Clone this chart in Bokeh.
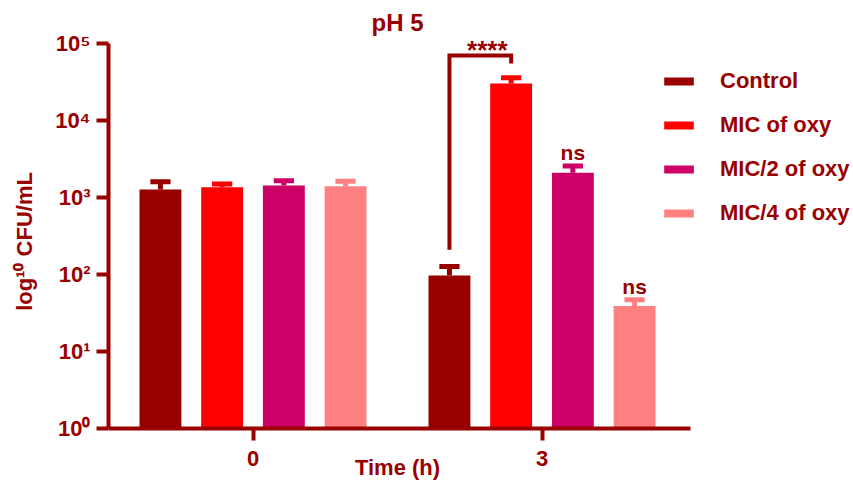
from bokeh.plotting import figure
from bokeh.models import FixedTicker, Legend, LegendItem, Label, ColumnDataSource
from bokeh.embed import file_html
from bokeh.resources import INLINE
from bokeh.core.properties import value

# ---------------- data ----------------
time_labels = ["0", "3"]
series = ["Control", "MIC of oxy", "MIC/2 of oxy", "MIC/4 of oxy"]
colors = ["#990000", "#ff0000", "#cc0066", "#ff8080"]

control = [1270, 97]
mic = [1360, 30300]
mic2 = [1430, 2100]
mic4 = [1400, 39]

control_err = [330, 30]
mic_err = [140, 5700]
mic2_err = [220, 470]
mic4_err = [220, 8]

y_ticks = [1, 10, 100, 1000, 10000, 100000]
y_tick_labels = ["10⁰", "10¹", "10²", "10³", "10⁴", "10⁵"]

# significance annotations: (series index, time index, text)
ns_marks = [(2, 1, "ns"), (3, 1, "ns")]
star_text = "****"

# ---------------- style ----------------
TXT = "#990000"
FONT = "Liberation Sans"

means = [control, mic, mic2, mic4]
errs = [control_err, mic_err, mic2_err, mic4_err]

pitch = 0.2135
bar_w = 0.145
cap_half = 0.035

W, H = 853, 482
LEFT = 108
AXIS_Y_PX = 428          # pixel row of the x axis (value 1)
px_per_group = 289.0
px_per_decade = 77.0
frame_w = W - LEFT
x_end = -0.5 + frame_w / px_per_group
y_start = 10 ** (-(H - AXIS_Y_PX) / px_per_decade)
y_end = 10 ** (AXIS_Y_PX / px_per_decade)

p = figure(width=W, height=H, x_range=(-0.5, x_end), y_range=(y_start, y_end),
           y_axis_type="log", output_backend="svg", toolbar_location=None,
           min_border_left=LEFT, min_border_right=0, min_border_top=0,
           min_border_bottom=0, title=None)
p.outline_line_color = None
p.grid.visible = False
p.background_fill_color = "white"
p.border_fill_color = "white"

renderers = []
for i, (m, e, c) in enumerate(zip(means, errs, colors)):
    off = (i - 1.5) * pitch
    xs = [g + off for g in range(len(time_labels))]
    tops = [a + b for a, b in zip(m, e)]
    src = ColumnDataSource(dict(x=xs, top=m, etop=tops,
                                cl=[x - cap_half for x in xs],
                                cr=[x + cap_half for x in xs]))
    r = p.vbar(x="x", top="top", bottom=1, width=bar_w, source=src,
               fill_color=c, line_color=None)
    p.segment(x0="x", y0="top", x1="x", y1="etop", source=src,
              line_color=c, line_width=5, line_cap="butt")
    p.segment(x0="cl", y0="etop", x1="cr", y1="etop", source=src,
              line_color=c, line_width=5, line_cap="butt")
    renderers.append(r)

# ns labels
ns_src = ColumnDataSource(dict(
    x=[ti + (si - 1.5) * pitch for si, ti, _ in ns_marks],
    y=[means[si][ti] + errs[si][ti] for si, ti, _ in ns_marks],
    t=[t for _, _, t in ns_marks]))
p.text(x="x", y="y", text="t", source=ns_src, text_align="center",
       text_baseline="alphabetic", y_offset=-13, text_color=TXT,
       text_font=value(FONT), text_font_style="bold", text_font_size="21px")

# bracket between Control and MIC at 3 h
xl = 1 + (0 - 1.5) * pitch
xr = 1 + (1 - 1.5) * pitch
b_top = 7.0e4
b_left_end = 2.1e2
b_right_end = 5.5e4
p.line(x=[xl, xl, xr, xr], y=[b_left_end, b_top, b_top, b_right_end],
       line_color=TXT, line_width=4, line_join="miter")
p.add_layout(Label(x=(xl + xr) / 2, y=b_top, text=star_text, x_offset=7,
                   y_offset=5, text_align="center", text_baseline="alphabetic",
                   text_color=TXT, text_font=FONT, text_font_style="bold",
                   text_font_size="26px"))

# title
p.add_layout(Label(x=0.5, y=1e5, text="pH 5", y_offset=21, text_align="center",
                   text_baseline="middle", text_color=TXT, text_font=FONT,
                   text_font_style="bold", text_font_size="24px"))
# x axis title
p.add_layout(Label(x=0.5, y=1, text="Time (h)", y_offset=-39, text_align="center",
                   text_baseline="middle", text_color=TXT, text_font=FONT,
                   text_font_style="bold", text_font_size="22px"))

# axes
for ax in (p.xaxis[0], p.yaxis[0]):
    ax.axis_line_color = TXT
    ax.axis_line_width = 4
    ax.major_tick_line_color = TXT
    ax.major_tick_line_width = 4
    ax.major_tick_in = 0
    ax.major_tick_out = 12
    ax.minor_tick_line_color = None
    ax.major_label_text_color = TXT
    ax.major_label_text_font = FONT
    ax.major_label_text_font_style = "bold"
    ax.major_label_text_font_size = "22px"
    ax.axis_label_text_color = TXT
    ax.axis_label_text_font = FONT
    ax.axis_label_text_font_style = "bold"
    ax.axis_label_text_font_size = "22px"

p.xaxis.fixed_location = 1
p.xaxis.bounds = (-0.5, 1.515)
p.xaxis.ticker = FixedTicker(ticks=list(range(len(time_labels))))
p.xaxis.major_label_overrides = {i: t for i, t in enumerate(time_labels)}
p.xaxis.major_label_standoff = 10

p.yaxis.bounds = (1, 1e5)
p.yaxis.ticker = FixedTicker(ticks=y_ticks, minor_ticks=[])
p.yaxis.major_label_overrides = dict(zip(y_ticks, y_tick_labels))
p.yaxis.major_label_standoff = 6
p.yaxis.axis_label = "log¹⁰ CFU/mL"
p.yaxis.axis_label_standoff = 15

legend = Legend(items=[LegendItem(label=s, renderers=[r]) for s, r in zip(series, renderers)],
                location=(552, 256), padding=0, margin=0, spacing=18,
                glyph_width=37, glyph_height=10, label_standoff=23,
                label_text_font=FONT, label_text_font_style="bold",
                label_text_font_size="22px", label_text_color=TXT,
                border_line_color=None, background_fill_alpha=0)
p.add_layout(legend, "center")

open("out.html", "w").write(file_html(p, INLINE))
